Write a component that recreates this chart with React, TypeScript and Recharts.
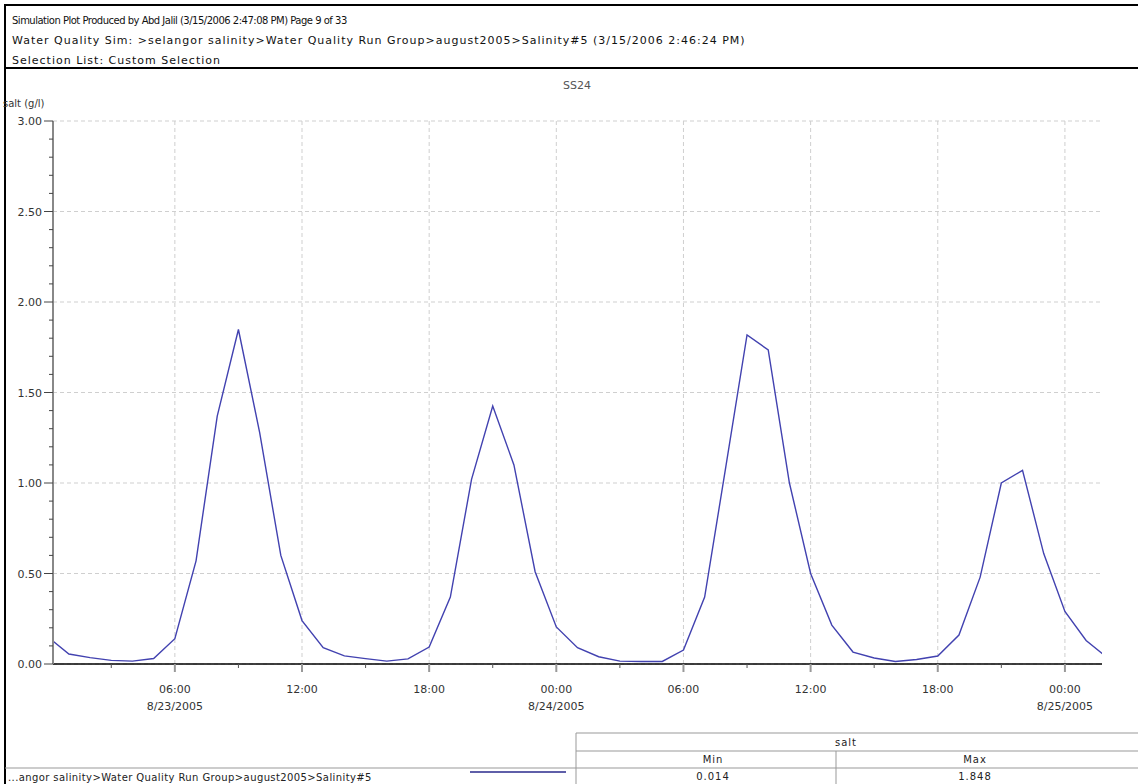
import { LineChart, Line, XAxis, YAxis, CartesianGrid } from 'recharts'

// hourly salinity at SS24, hour 0 = 8/23/2005 00:00
const hours = [
  0, 1, 2, 3, 4, 5, 6, 7, 8, 9, 10, 11, 12, 13, 14, 15, 16, 17, 18, 19, 20, 21, 22, 23, 24, 25,
  26, 27, 28, 29, 30, 31, 32, 33, 34, 35, 36, 37, 38, 39, 40, 41, 42, 43, 44, 45, 46, 47, 48, 49, 50,
]
const salt = [
  0.15, 0.055, 0.035, 0.02, 0.016, 0.03, 0.14, 0.57, 1.37, 1.848, 1.28, 0.6, 0.24, 0.09, 0.045, 0.03, 0.016,
  0.028, 0.094, 0.37, 1.02, 1.425, 1.1, 0.51, 0.205, 0.09, 0.04, 0.016, 0.014, 0.014, 0.077, 0.37, 1.09,
  1.818, 1.735, 1.0, 0.5, 0.215, 0.066, 0.033, 0.014, 0.025, 0.044, 0.16, 0.48, 1.0, 1.07, 0.61, 0.29, 0.13, 0.035,
]

const yTicks = [
  0, 0.1, 0.2, 0.3, 0.4, 0.5, 0.6, 0.7, 0.8, 0.9, 1, 1.1, 1.2, 1.3, 1.4, 1.5, 1.6, 1.7, 1.8, 1.9, 2, 2.1, 2.2,
  2.3, 2.4, 2.5, 2.6, 2.7, 2.8, 2.9, 3,
]
const yMajor = [0, 0.5, 1, 1.5, 2, 2.5, 3]
const xTicks = [3, 6, 9, 12, 15, 18, 21, 24, 27, 30, 33, 36, 39, 42, 45, 48]
const majorHours = [6, 12, 18, 24, 30, 36, 42, 48]
const majorTimes = ['06:00', '12:00', '18:00', '00:00', '06:00', '12:00', '18:00', '00:00']
const majorDates = ['8/23/2005', '', '', '8/24/2005', '', '', '', '8/25/2005']

const headerLines = [
  'Simulation Plot Produced by Abd Jalil (3/15/2006 2:47:08 PM) Page 9 of 33',
  'Water Quality Sim: >selangor salinity>Water Quality Run Group>august2005>Salinity#5 (3/15/2006 2:46:24 PM)',
  'Selection List: Custom Selection',
]
const chartTitle = 'SS24'
const yLabel = 'salt (g/l)'
const seriesName = '...angor salinity>Water Quality Run Group>august2005>Salinity#5'
const statTitle = 'salt'
const statCols = ['Min', 'Max']
const statVals = ['0.014', '1.848']

const data = hours.map((h, i) => ({ hour: h, salt: salt[i] }))

const tickFont = { fontFamily: 'DejaVu Sans', fontSize: 11, fill: '#333' }
const headFont = { fontFamily: 'DejaVu Sans', fontSize: 11, fill: '#111' }
const tableFont = { fontFamily: 'DejaVu Sans', fontSize: 10, fill: '#222', letterSpacing: 1 }

function XTick(props: any) {
  const { x, y, payload } = props
  const i = majorHours.indexOf(payload.value)
  if (i < 0) return <line x1={x} x2={x} y1={y} y2={y + 4} stroke="#555" />
  return (
    <g>
      <line x1={x} x2={x} y1={y} y2={y + 8} stroke="#999" strokeWidth={2} />
      <text x={x} y={y + 29} textAnchor="middle" {...tickFont}>{majorTimes[i]}</text>
      {majorDates[i] && (
        <text x={x} y={y + 46} textAnchor="middle" {...tickFont}>{majorDates[i]}</text>
      )}
    </g>
  )
}

function YTick(props: any) {
  const { x, y, payload } = props
  const v = payload.value
  const major = yMajor.some(m => Math.abs(m - v) < 1e-6)
  if (!major) return <line x1={x - 4} x2={x} y1={y} y2={y} stroke="#444" />
  return (
    <g>
      <line x1={x - 9} x2={x} y1={y} y2={y} stroke="#444" />
      <text x={x - 11} y={y + 4} textAnchor="end" {...tickFont}>{v.toFixed(2)}</text>
    </g>
  )
}

export default function App() {
  return (
    <div style={{ position: 'fixed', left: 0, top: 0, width: 1138, height: 784, background: '#fff' }}>
      <svg width={1138} height={784} style={{ position: 'absolute', left: 0, top: 0 }}>
        {/* frame and header */}
        <line x1={4} x2={1138} y1={5} y2={5} stroke="#000" strokeWidth={2} />
        <line x1={5} x2={5} y1={4} y2={784} stroke="#000" strokeWidth={2} />
        <line x1={4} x2={1138} y1={68} y2={68} stroke="#000" strokeWidth={2} />
        {headerLines.map((t, i) => (
          <text key={i} x={12} y={24 + i * 20} {...headFont} letterSpacing={i === 0 ? -0.5 : 1}
            fontSize={i === 0 ? 10 : 11}>{t}</text>
        ))}
        <text x={577} y={89} textAnchor="middle" {...tickFont} fill="#555">{chartTitle}</text>
        <text x={3} y={107} {...tickFont} fontSize={10}>{yLabel}</text>

        {/* legend + stats table */}
        <line x1={5} x2={576} y1={768} y2={768} stroke="#999" />
        <text x={8} y={781} {...tableFont} letterSpacing={0.4}>{seriesName}</text>
        <line x1={470} x2={566} y1={772} y2={772} stroke="#2a2a8c" strokeWidth={1.5} />
        <line x1={576} x2={1138} y1={733} y2={733} stroke="#999" />
        <line x1={576} x2={1138} y1={751} y2={751} stroke="#999" />
        <line x1={576} x2={1138} y1={768} y2={768} stroke="#999" />
        <line x1={576} x2={576} y1={733} y2={784} stroke="#999" />
        <line x1={836} x2={836} y1={751} y2={784} stroke="#999" />
        <text x={846} y={746} textAnchor="middle" {...tableFont}>{statTitle}</text>
        {statCols.map((c, i) => (
          <text key={c} x={i === 0 ? 713 : 975} y={763} textAnchor="middle" {...tableFont}>{c}</text>
        ))}
        {statVals.map((v, i) => (
          <text key={v} x={i === 0 ? 713 : 975} y={780} textAnchor="middle" {...tableFont}>{v}</text>
        ))}
      </svg>
      <div style={{ position: 'absolute', left: 0, top: 0 }}>
        <LineChart width={1138} height={784} data={data} margin={{ top: 121, right: 36, bottom: 60, left: 8 }}>
          <CartesianGrid
            stroke="#cfcfcf"
            strokeDasharray="4 3"
            horizontalValues={yMajor}
            verticalValues={majorHours}
          />
          <XAxis
            dataKey="hour"
            type="number"
            domain={[0.25, 49.75]}
            allowDataOverflow
            ticks={xTicks}
            interval={0}
            height={60}
            tickSize={0}
            tickMargin={0}
            tickLine={false}
            axisLine={{ stroke: '#000', strokeWidth: 1.5 }}
            tick={<XTick />}
          />
          <YAxis
            type="number"
            domain={[0, 3]}
            allowDataOverflow
            ticks={yTicks}
            interval={0}
            width={45}
            tickSize={0}
            tickMargin={0}
            tickLine={false}
            axisLine={{ stroke: '#888', strokeWidth: 2 }}
            tick={<YTick />}
          />
          <Line
            type="linear"
            dataKey="salt"
            stroke="#4242b0"
            strokeWidth={1.4}
            dot={false}
            isAnimationActive={false}
          />
        </LineChart>
      </div>
    </div>
  )
}
